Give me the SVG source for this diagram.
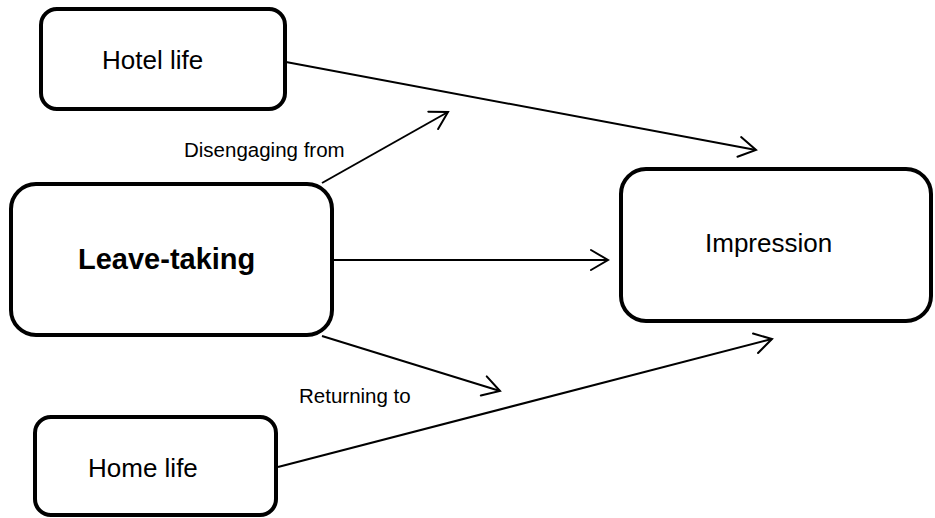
<svg xmlns="http://www.w3.org/2000/svg" width="935" height="518" viewBox="0 0 935 518">
  <style>
    .box { fill: #ffffff; stroke: #000000; stroke-width: 4; }
    .label { font-family: "Liberation Sans", Arial, sans-serif; font-size: 26px; fill: #000000; }
    .bold { font-weight: bold; font-size: 29px; }
    .edge-label { font-family: "Liberation Sans", Arial, sans-serif; font-size: 20.5px; fill: #000000; }
    .link { fill: none; stroke: #000000; stroke-width: 2; marker-end: url(#open-arrow); }
  </style>
  <defs>
    <marker id="open-arrow" viewBox="-20 -12 22 24" refX="0" refY="0" markerWidth="22" markerHeight="24" markerUnits="userSpaceOnUse" orient="auto">
      <path d="M-17,-10 L0,0 L-17,10" fill="none" stroke="#000000" stroke-width="2" stroke-linecap="round" stroke-linejoin="miter"/>
    </marker>
  </defs>

  <g id="connectors">
    <line class="link" x1="286" y1="62" x2="756" y2="150"/>
    <line class="link" x1="322" y1="183" x2="448" y2="112"/>
    <line class="link" x1="334" y1="260" x2="608" y2="260"/>
    <line class="link" x1="322" y1="336" x2="500" y2="391"/>
    <line class="link" x1="278" y1="467" x2="772" y2="339"/>
    <text class="edge-label" x="184" y="157">Disengaging from</text>
    <text class="edge-label" x="299" y="403">Returning to</text>
  </g>

  <g id="hotel-life">
    <rect class="box" x="41" y="9" width="244" height="100" rx="16"/>
    <text class="label" x="102" y="69">Hotel life</text>
  </g>

  <g id="leave-taking">
    <rect class="box" x="11" y="184" width="321" height="151" rx="25"/>
    <text class="label bold" x="78" y="269">Leave-taking</text>
  </g>

  <g id="impression">
    <rect class="box" x="621" y="169" width="310" height="152" rx="25"/>
    <text class="label" x="705" y="252">Impression</text>
  </g>

  <g id="home-life">
    <rect class="box" x="35" y="417" width="241" height="98" rx="16"/>
    <text class="label" x="88" y="477">Home life</text>
  </g>
</svg>
